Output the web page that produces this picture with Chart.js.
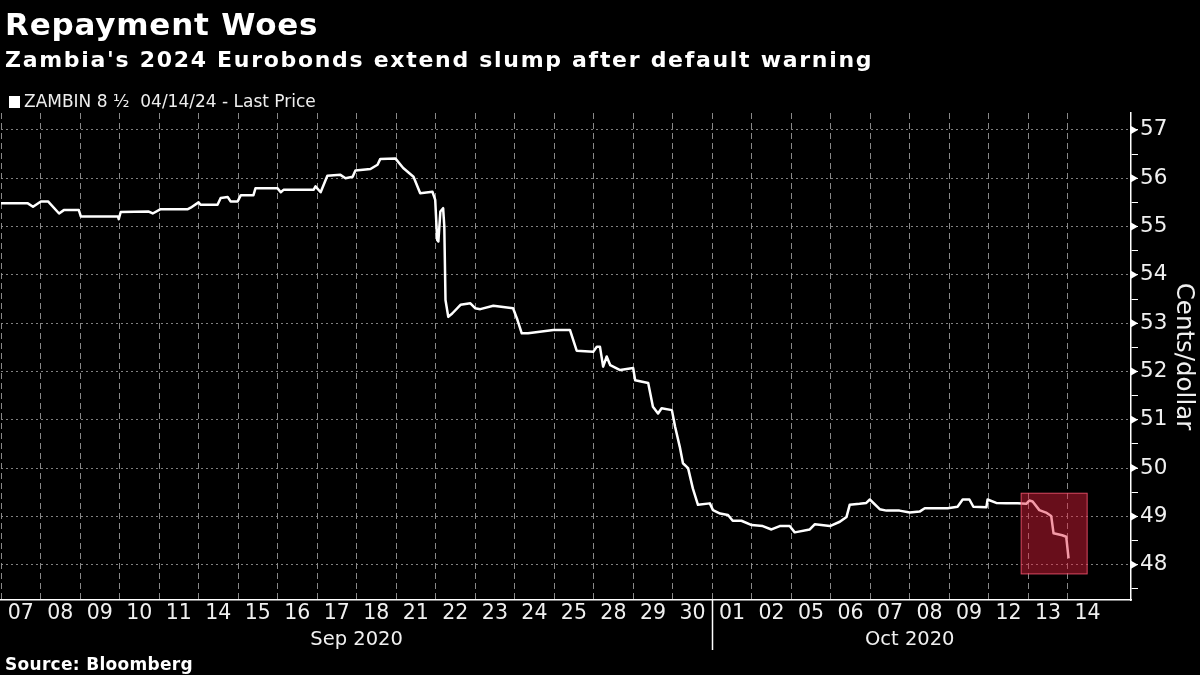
<!DOCTYPE html>
<html>
<head>
<meta charset="utf-8">
<script src="https://cdn.jsdelivr.net/npm/chart.js@4.4.1/dist/chart.umd.min.js"></script>
<style>
  html, body { margin: 0; padding: 0; background: #000; }
  #wrap { position: relative; width: 1200px; height: 675px; overflow: hidden; }
  .txt { position: absolute; left: 5px; color: #fff; white-space: pre; line-height: normal;
         font-family: 'DejaVu Sans', sans-serif; }
  #title { top: 6px; font-size: 31px; font-weight: bold; letter-spacing: 0.8px; }
  #subtitle { top: 47px; font-size: 22px; font-weight: bold; letter-spacing: 1.7px; }
  #legend { top: 91px; left: 9px; font-size: 17px; color: #eee; }
  #legend span { display: inline-block; width: 11px; height: 12px; background: #fff; margin-right: 4px; vertical-align: -1px; }
  #source { top: 654px; font-size: 17px; font-weight: bold; letter-spacing: 0.3px; }
</style>
</head>
<body>
<div id="wrap">
  <canvas id="chart" width="1200" height="675"></canvas>
  <div id="title" class="txt">Repayment Woes</div>
  <div id="subtitle" class="txt">Zambia's 2024 Eurobonds extend slump after default warning</div>
  <div id="legend" class="txt"><span></span>ZAMBIN 8 ½  04/14/24 - Last Price</div>
  <div id="source" class="txt">Source: Bloomberg</div>
</div>
<script>
// trading days shown on the axis
const dayLabels = ['07','08','09','10','11','14','15','16','17','18','21','22','23','24','25','28','29','30',
                   '01','02','05','06','07','08','09','12','13','14'];
const monthLabels = ['Sep 2020', 'Oct 2020'];
const monthDayCounts = [18, 10];

// position in trading days (0 = start of 07 Sep) and last price
const priceTimes = [0.00, 0.68, 0.81, 1.01, 1.19, 1.47, 1.59, 1.97, 2.02, 2.96, 2.98, 3.03, 3.74, 3.84, 4.04, 4.73,
  4.80, 5.00, 5.05, 5.48, 5.56, 5.74, 5.81, 5.99, 6.07, 6.39, 6.44, 7.00, 7.08, 7.15, 7.91, 7.96, 8.09, 8.26,
  8.59, 8.72, 8.90, 8.97, 9.35, 9.53, 9.60, 9.98, 10.18, 10.44, 10.61, 10.92, 10.99, 11.04, 11.07, 11.12, 11.19,
  11.22, 11.25, 11.32, 11.42, 11.63, 11.88, 12.00, 12.13, 12.46, 12.96, 13.07, 13.18, 13.34, 13.98, 14.40, 14.57,
  14.99, 15.08, 15.16, 15.24, 15.33, 15.42, 15.67, 16.00, 16.05, 16.38, 16.50, 16.63, 16.72, 16.98, 17.06, 17.18,
  17.26, 17.39, 17.51, 17.64, 17.94, 18.02, 18.20, 18.40, 18.52, 18.74, 19.00, 19.28, 19.50, 19.71, 19.96, 20.09,
  20.47, 20.60, 20.98, 21.23, 21.40, 21.48, 21.73, 21.90, 21.99, 22.24, 22.41, 22.74, 23.00, 23.25, 23.38, 23.96,
  24.21, 24.34, 24.51, 24.61, 24.94, 24.97, 25.19, 25.44, 25.73, 25.95, 26.03, 26.11, 26.28, 26.45, 26.58, 26.64,
  26.86, 26.96, 27.02];
const priceValues = [55.48, 55.48, 55.41, 55.52, 55.52, 55.27, 55.34, 55.34, 55.21, 55.21, 55.15, 55.30, 55.31, 55.27, 55.36, 55.36,
  55.39, 55.50, 55.45, 55.45, 55.59, 55.61, 55.52, 55.52, 55.65, 55.65, 55.79, 55.79, 55.71, 55.76, 55.76, 55.83, 55.71, 56.05,
  56.07, 56.00, 56.03, 56.16, 56.19, 56.28, 56.40, 56.41, 56.21, 56.03, 55.69, 55.72, 55.55, 54.72, 54.69, 55.31, 55.38,
  55.00, 53.48, 53.13, 53.20, 53.38, 53.41, 53.31, 53.29, 53.36, 53.31, 53.07, 52.79, 52.79, 52.86, 52.86, 52.43,
  52.41, 52.51, 52.51, 52.10, 52.31, 52.13, 52.03, 52.07, 51.82, 51.76, 51.27, 51.13, 51.24, 51.20, 50.86, 50.44,
  50.10, 50.00, 49.58, 49.24, 49.27, 49.13, 49.06, 49.03, 48.91, 48.91, 48.82, 48.80, 48.73, 48.80, 48.80, 48.67,
  48.73, 48.84, 48.80, 48.89, 48.99, 49.24, 49.26, 49.28, 49.35, 49.15, 49.12, 49.12, 49.08, 49.10, 49.17, 49.17,
  49.20, 49.35, 49.35, 49.20, 49.19, 49.35, 49.28, 49.27, 49.27, 49.26, 49.33, 49.31, 49.13, 49.08, 49.01, 48.65,
  48.61, 48.58, 48.13];

const yTickValues = [47.5, 48, 48.5, 49, 49.5, 50, 50.5, 51, 51.5, 52, 52.5, 53, 53.5, 54, 54.5, 55, 55.5, 56, 56.5, 57];

// highlighted area around the latest slide
const highlightDays = [25.82, 27.49];
const highlightPrices = [47.81, 49.48];

const FONT = "'DejaVu Sans', sans-serif";

const monthCenters = [];
let acc = 0;
monthDayCounts.forEach(n => { monthCenters.push(acc + n / 2); acc += n; });

const extras = {
  id: 'extras',
  afterDatasetsDraw(chart) {
    const {ctx, scales: {x, y}} = chart;
    const x1 = x.getPixelForValue(highlightDays[0]), x2 = x.getPixelForValue(highlightDays[1]);
    const y1 = y.getPixelForValue(highlightPrices[1]), y2 = y.getPixelForValue(highlightPrices[0]);
    ctx.save();
    ctx.fillStyle = 'rgba(230, 30, 60, 0.45)';
    ctx.fillRect(x1, y1, x2 - x1, y2 - y1);
    ctx.strokeStyle = 'rgba(235, 80, 105, 0.9)';
    ctx.lineWidth = 1;
    ctx.strokeRect(x1, y1, x2 - x1, y2 - y1);
    ctx.restore();
  },
  afterDraw(chart) {
    const {ctx, chartArea, scales: {x, y}} = chart;
    ctx.save();
    // month separator
    const sx = Math.round(x.getPixelForValue(monthDayCounts[0])) + 0.5;
    ctx.strokeStyle = '#fff';
    ctx.lineWidth = 1.5;
    ctx.beginPath();
    ctx.moveTo(sx, chartArea.bottom);
    ctx.lineTo(sx, chartArea.bottom + 50);
    ctx.stroke();
    // arrow marks on the major ticks
    ctx.fillStyle = '#fff';
    y.ticks.forEach(t => {
      if (t.value % 1 !== 0) return;
      const py = y.getPixelForValue(t.value);
      ctx.beginPath();
      ctx.moveTo(chartArea.right, py - 4);
      ctx.lineTo(chartArea.right + 7, py);
      ctx.lineTo(chartArea.right, py + 4);
      ctx.closePath();
      ctx.fill();
    });
    ctx.restore();
  }
};

const ctx = document.getElementById('chart').getContext('2d');
new Chart(ctx, {
  type: 'line',
  data: {
    datasets: [{
      label: 'ZAMBIN 8 ½ 04/14/24 - Last Price',
      data: priceTimes.map((t, i) => ({x: t, y: priceValues[i]})),
      borderColor: '#fff',
      backgroundColor: '#fff',
      borderWidth: 2.5,
      pointRadius: 0,
      tension: 0,
      borderJoinStyle: 'round'
    }]
  },
  options: {
    responsive: false,
    animation: false,
    devicePixelRatio: 1,
    layout: {padding: {top: 113, left: 0, right: 0, bottom: 17}},
    plugins: {
      legend: {display: false},
      tooltip: {enabled: false}
    },
    scales: {
      x: {
        type: 'linear',
        min: 0,
        max: 28.6,
        afterBuildTicks: s => {
          const ticks = [];
          dayLabels.forEach((d, i) => { ticks.push({value: i}); ticks.push({value: i + 0.5}); });
          s.ticks = ticks;
        },
        afterFit: s => { s.height = 28; },
        ticks: {
          color: '#f0f0f0',
          font: {family: FONT, size: 20.5},
          padding: 1,
          autoSkip: false,
          maxRotation: 0,
          callback: v => (v % 1 === 0.5 ? dayLabels[Math.floor(v)] : '')
        },
        grid: {
          color: c => (c.tick && c.tick.value % 1 === 0 ? 'rgba(170,170,170,0.8)' : 'transparent'),
          lineWidth: 1,
          drawTicks: false
        },
        border: {color: '#fff', width: 1.5, dash: [6, 4]}
      },
      x2: {
        type: 'linear',
        position: 'bottom',
        min: 0,
        max: 28.6,
        afterBuildTicks: s => { s.ticks = monthCenters.map(v => ({value: v})); },
        afterFit: s => { s.height = 30; },
        ticks: {
          color: '#f0f0f0',
          font: {family: FONT, size: 19.5},
          padding: 0,
          autoSkip: false,
          maxRotation: 0,
          callback: (v, i) => monthLabels[i]
        },
        grid: {display: false, drawTicks: false},
        border: {display: false}
      },
      y: {
        type: 'linear',
        position: 'right',
        min: 47.27,
        max: 57.35,
        afterBuildTicks: s => { s.ticks = yTickValues.map(v => ({value: v})); },
        afterFit: s => { s.width = 69; },
        ticks: {
          color: '#f0f0f0',
          font: {family: FONT, size: 21.5},
          padding: 2,
          autoSkip: false,
          callback: v => (v % 1 === 0 ? String(v) : '')
        },
        grid: {
          color: c => (c.tick && c.tick.value % 1 === 0 ? 'rgba(150,150,150,0.85)' : 'transparent'),
          tickColor: '#fff',
          tickLength: 7,
          lineWidth: 1
        },
        border: {color: '#fff', width: 1.5, dash: [2, 3]},
        title: {
          display: true,
          text: 'Cents/dollar',
          color: '#f0f0f0',
          font: {family: FONT, size: 24.5},
          padding: {top: 2, bottom: 0}
        }
      }
    }
  },
  plugins: [extras]
});
</script>
</body>
</html>
